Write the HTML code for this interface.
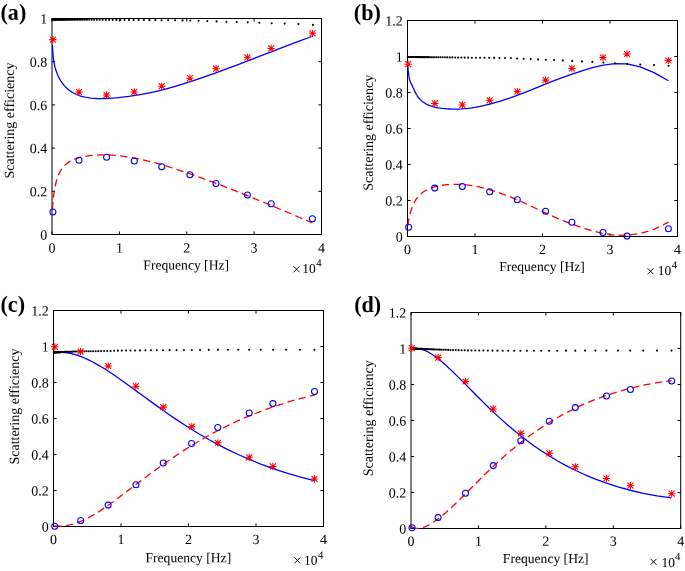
<!DOCTYPE html>
<html><head><meta charset="utf-8"><style>
html,body{margin:0;padding:0;background:#fff;overflow:hidden;}
svg{display:block;will-change:transform;}
text{font-family:"Liberation Serif", serif;font-size:14px;fill:#000;text-rendering:geometricPrecision;}
</style></head><body>
<svg width="685" height="571" viewBox="0 0 685 571">
<rect x="52.00" y="18.50" width="269.50" height="216.00" fill="none" stroke="#000" stroke-width="1"/>
<path d="M52.00,234.50V231.40M52.00,18.50V21.60M119.38,234.50V231.40M119.38,18.50V21.60M186.75,234.50V231.40M186.75,18.50V21.60M254.12,234.50V231.40M254.12,18.50V21.60M321.50,234.50V231.40M321.50,18.50V21.60M52.00,234.50H55.10M321.50,234.50H318.40M52.00,191.30H55.10M321.50,191.30H318.40M52.00,148.10H55.10M321.50,148.10H318.40M52.00,104.90H55.10M321.50,104.90H318.40M52.00,61.70H55.10M321.50,61.70H318.40M52.00,18.50H55.10M321.50,18.50H318.40" stroke="#000" stroke-width="1" fill="none"/>
<path d="M52.40,44.89 L52.49,46.72 L52.73,50.58 L52.97,53.84 L53.23,56.62 L53.51,59.04 L53.80,61.15 L54.11,63.02 L54.44,64.71 L54.78,66.25 L55.15,67.68 L55.54,69.02 L55.95,70.31 L56.38,71.57 L56.84,72.80 L57.33,74.02 L57.84,75.23 L58.39,76.42 L58.96,77.60 L59.57,78.76 L60.22,79.90 L60.90,81.02 L61.63,82.12 L62.39,83.21 L63.20,84.27 L64.06,85.31 L64.97,86.34 L65.93,87.34 L66.94,88.31 L68.02,89.26 L69.16,90.18 L70.36,91.06 L71.63,91.91 L72.98,92.71 L74.41,93.48 L75.92,94.20 L77.52,94.88 L79.21,95.51 L81.00,96.09 L82.90,96.61 L84.90,97.08 L87.02,97.48 L89.27,97.83 L91.65,98.11 L94.16,98.33 L96.82,98.48 L99.64,98.55 L102.62,98.56 L105.78,98.48 L109.12,98.33 L112.65,98.10 L116.39,97.79 L120.35,97.38 L124.54,96.89 L128.97,96.31 L133.66,95.64 L138.63,94.84 L143.88,93.91 L149.44,92.81 L155.33,91.53 L161.56,90.04 L168.15,88.32 L175.12,86.35 L182.50,84.13 L190.32,81.63 L198.59,78.87 L207.34,75.84 L216.60,72.53 L226.40,68.94 L236.77,65.06 L247.74,60.90 L259.36,56.45 L271.65,51.71 L284.66,46.72 L298.43,41.48 L311.70,36.51" fill="none" stroke="#0000ff" stroke-width="1.3" stroke-linejoin="round"/>
<path d="M52.40,209.33 L52.49,207.97 L52.73,204.90 L52.97,202.04 L53.23,199.38 L53.51,196.88 L53.80,194.53 L54.11,192.30 L54.44,190.20 L54.78,188.20 L55.15,186.31 L55.54,184.50 L55.95,182.77 L56.38,181.13 L56.84,179.55 L57.33,178.05 L57.84,176.61 L58.39,175.23 L58.96,173.90 L59.57,172.64 L60.22,171.43 L60.90,170.26 L61.63,169.15 L62.39,168.09 L63.20,167.07 L64.06,166.10 L64.97,165.17 L65.93,164.28 L66.94,163.44 L68.02,162.63 L69.16,161.87 L70.36,161.15 L71.63,160.47 L72.98,159.82 L74.41,159.22 L75.92,158.65 L77.52,158.12 L79.21,157.63 L81.00,157.18 L82.90,156.76 L84.90,156.38 L87.02,156.04 L89.27,155.73 L91.65,155.47 L94.16,155.23 L96.82,155.04 L99.64,154.91 L102.62,154.84 L105.78,154.84 L109.12,154.94 L112.65,155.13 L116.39,155.42 L120.35,155.84 L124.54,156.39 L128.97,157.07 L133.66,157.91 L138.63,158.91 L143.88,160.08 L149.44,161.43 L155.33,162.97 L161.56,164.71 L168.15,166.67 L175.12,168.85 L182.50,171.27 L190.32,173.93 L198.59,176.86 L207.34,180.06 L216.60,183.54 L226.40,187.33 L236.77,191.42 L247.74,195.84 L259.36,200.59 L271.65,205.69 L284.66,211.16 L298.43,216.99 L312.40,222.95" fill="none" stroke="#ff0000" stroke-width="1.3" stroke-dasharray="7.3 4.3" stroke-linejoin="round"/>
<circle cx="52.27" cy="19.60" r="1.05" fill="#000"/>
<circle cx="52.49" cy="19.60" r="1.05" fill="#000"/>
<circle cx="52.73" cy="19.61" r="1.05" fill="#000"/>
<circle cx="52.97" cy="19.61" r="1.05" fill="#000"/>
<circle cx="53.23" cy="19.61" r="1.05" fill="#000"/>
<circle cx="53.51" cy="19.61" r="1.05" fill="#000"/>
<circle cx="53.80" cy="19.61" r="1.05" fill="#000"/>
<circle cx="54.11" cy="19.61" r="1.05" fill="#000"/>
<circle cx="54.44" cy="19.61" r="1.05" fill="#000"/>
<circle cx="54.78" cy="19.61" r="1.05" fill="#000"/>
<circle cx="55.15" cy="19.62" r="1.05" fill="#000"/>
<circle cx="55.54" cy="19.62" r="1.05" fill="#000"/>
<circle cx="55.95" cy="19.62" r="1.05" fill="#000"/>
<circle cx="56.38" cy="19.62" r="1.05" fill="#000"/>
<circle cx="56.84" cy="19.62" r="1.05" fill="#000"/>
<circle cx="57.33" cy="19.63" r="1.05" fill="#000"/>
<circle cx="57.84" cy="19.63" r="1.05" fill="#000"/>
<circle cx="58.39" cy="19.63" r="1.05" fill="#000"/>
<circle cx="58.96" cy="19.63" r="1.05" fill="#000"/>
<circle cx="59.57" cy="19.64" r="1.05" fill="#000"/>
<circle cx="60.22" cy="19.64" r="1.05" fill="#000"/>
<circle cx="60.90" cy="19.64" r="1.05" fill="#000"/>
<circle cx="61.63" cy="19.65" r="1.05" fill="#000"/>
<circle cx="62.39" cy="19.65" r="1.05" fill="#000"/>
<circle cx="63.20" cy="19.65" r="1.05" fill="#000"/>
<circle cx="64.06" cy="19.66" r="1.05" fill="#000"/>
<circle cx="64.97" cy="19.66" r="1.05" fill="#000"/>
<circle cx="65.93" cy="19.66" r="1.05" fill="#000"/>
<circle cx="66.94" cy="19.67" r="1.05" fill="#000"/>
<circle cx="68.02" cy="19.67" r="1.05" fill="#000"/>
<circle cx="69.16" cy="19.68" r="1.05" fill="#000"/>
<circle cx="70.36" cy="19.68" r="1.05" fill="#000"/>
<circle cx="71.63" cy="19.69" r="1.05" fill="#000"/>
<circle cx="72.98" cy="19.70" r="1.05" fill="#000"/>
<circle cx="74.41" cy="19.70" r="1.05" fill="#000"/>
<circle cx="75.92" cy="19.71" r="1.05" fill="#000"/>
<circle cx="77.52" cy="19.72" r="1.05" fill="#000"/>
<circle cx="79.21" cy="19.72" r="1.05" fill="#000"/>
<circle cx="81.00" cy="19.73" r="1.05" fill="#000"/>
<circle cx="82.90" cy="19.74" r="1.05" fill="#000"/>
<circle cx="84.90" cy="19.75" r="1.05" fill="#000"/>
<circle cx="87.02" cy="19.76" r="1.05" fill="#000"/>
<circle cx="89.27" cy="19.77" r="1.05" fill="#000"/>
<circle cx="91.65" cy="19.78" r="1.05" fill="#000"/>
<circle cx="94.16" cy="19.79" r="1.05" fill="#000"/>
<circle cx="96.82" cy="19.80" r="1.05" fill="#000"/>
<circle cx="99.64" cy="19.82" r="1.05" fill="#000"/>
<circle cx="102.62" cy="19.83" r="1.05" fill="#000"/>
<circle cx="105.78" cy="19.85" r="1.05" fill="#000"/>
<circle cx="109.12" cy="19.87" r="1.05" fill="#000"/>
<circle cx="112.65" cy="19.88" r="1.05" fill="#000"/>
<circle cx="116.39" cy="19.90" r="1.05" fill="#000"/>
<circle cx="120.35" cy="19.93" r="1.05" fill="#000"/>
<circle cx="124.54" cy="19.96" r="1.05" fill="#000"/>
<circle cx="128.97" cy="19.99" r="1.05" fill="#000"/>
<circle cx="133.66" cy="20.02" r="1.05" fill="#000"/>
<circle cx="138.63" cy="20.05" r="1.05" fill="#000"/>
<circle cx="143.88" cy="20.09" r="1.05" fill="#000"/>
<circle cx="149.44" cy="20.13" r="1.05" fill="#000"/>
<circle cx="155.33" cy="20.17" r="1.05" fill="#000"/>
<circle cx="161.56" cy="20.21" r="1.05" fill="#000"/>
<circle cx="168.15" cy="20.25" r="1.05" fill="#000"/>
<circle cx="175.12" cy="20.30" r="1.05" fill="#000"/>
<circle cx="182.50" cy="20.40" r="1.05" fill="#000"/>
<circle cx="190.32" cy="20.51" r="1.05" fill="#000"/>
<circle cx="198.59" cy="20.80" r="1.05" fill="#000"/>
<circle cx="207.34" cy="21.11" r="1.05" fill="#000"/>
<circle cx="216.60" cy="21.40" r="1.05" fill="#000"/>
<circle cx="226.40" cy="21.71" r="1.05" fill="#000"/>
<circle cx="236.77" cy="22.01" r="1.05" fill="#000"/>
<circle cx="247.74" cy="22.33" r="1.05" fill="#000"/>
<circle cx="259.36" cy="22.81" r="1.05" fill="#000"/>
<circle cx="271.65" cy="23.20" r="1.05" fill="#000"/>
<circle cx="284.66" cy="23.60" r="1.05" fill="#000"/>
<circle cx="298.43" cy="24.10" r="1.05" fill="#000"/>
<circle cx="313.00" cy="24.90" r="1.05" fill="#000"/>
<path d="M49.30,39.60L56.50,39.60M49.93,36.63L55.87,42.57M52.90,36.00L52.90,43.20M55.87,36.63L49.93,42.57M75.40,92.00L82.60,92.00M76.03,89.03L81.97,94.97M79.00,88.40L79.00,95.60M81.97,89.03L76.03,94.97M102.90,95.00L110.10,95.00M103.53,92.03L109.47,97.97M106.50,91.40L106.50,98.60M109.47,92.03L103.53,97.97M130.60,91.90L137.80,91.90M131.23,88.93L137.17,94.87M134.20,88.30L134.20,95.50M137.17,88.93L131.23,94.87M158.10,86.20L165.30,86.20M158.73,83.23L164.67,89.17M161.70,82.60L161.70,89.80M164.67,83.23L158.73,89.17M186.40,78.20L193.60,78.20M187.03,75.23L192.97,81.17M190.00,74.60L190.00,81.80M192.97,75.23L187.03,81.17M212.50,68.70L219.70,68.70M213.13,65.73L219.07,71.67M216.10,65.10L216.10,72.30M219.07,65.73L213.13,71.67M243.80,57.30L251.00,57.30M244.43,54.33L250.37,60.27M247.40,53.70L247.40,60.90M250.37,54.33L244.43,60.27M267.60,48.40L274.80,48.40M268.23,45.43L274.17,51.37M271.20,44.80L271.20,52.00M274.17,45.43L268.23,51.37M308.90,33.30L316.10,33.30M309.53,30.33L315.47,36.27M312.50,29.70L312.50,36.90M315.47,30.33L309.53,36.27" stroke="#ff0000" stroke-width="1.05" fill="none"/>
<circle cx="52.90" cy="212.00" r="3.0" fill="none" stroke="#0000ff" stroke-width="1.05"/>
<circle cx="79.00" cy="160.30" r="3.0" fill="none" stroke="#0000ff" stroke-width="1.05"/>
<circle cx="106.60" cy="157.30" r="3.0" fill="none" stroke="#0000ff" stroke-width="1.05"/>
<circle cx="134.30" cy="161.00" r="3.0" fill="none" stroke="#0000ff" stroke-width="1.05"/>
<circle cx="161.70" cy="166.80" r="3.0" fill="none" stroke="#0000ff" stroke-width="1.05"/>
<circle cx="189.90" cy="174.70" r="3.0" fill="none" stroke="#0000ff" stroke-width="1.05"/>
<circle cx="216.00" cy="183.40" r="3.0" fill="none" stroke="#0000ff" stroke-width="1.05"/>
<circle cx="247.40" cy="195.00" r="3.0" fill="none" stroke="#0000ff" stroke-width="1.05"/>
<circle cx="271.20" cy="203.80" r="3.0" fill="none" stroke="#0000ff" stroke-width="1.05"/>
<circle cx="312.40" cy="218.80" r="3.0" fill="none" stroke="#0000ff" stroke-width="1.05"/>
<text x="52.00" y="252.60" transform="rotate(0.05 52.00 252.60)" text-anchor="middle">0</text>
<text x="119.38" y="252.60" transform="rotate(0.05 119.38 252.60)" text-anchor="middle">1</text>
<text x="186.75" y="252.60" transform="rotate(0.05 186.75 252.60)" text-anchor="middle">2</text>
<text x="254.12" y="252.60" transform="rotate(0.05 254.12 252.60)" text-anchor="middle">3</text>
<text x="321.50" y="252.60" transform="rotate(0.05 321.50 252.60)" text-anchor="middle">4</text>
<text x="47.30" y="239.50" transform="rotate(0.05 47.30 239.50)" text-anchor="end">0</text>
<text x="47.30" y="196.30" transform="rotate(0.05 47.30 196.30)" text-anchor="end">0.2</text>
<text x="47.30" y="153.10" transform="rotate(0.05 47.30 153.10)" text-anchor="end">0.4</text>
<text x="47.30" y="109.90" transform="rotate(0.05 47.30 109.90)" text-anchor="end">0.6</text>
<text x="47.30" y="66.70" transform="rotate(0.05 47.30 66.70)" text-anchor="end">0.8</text>
<text x="47.30" y="23.50" transform="rotate(0.05 47.30 23.50)" text-anchor="end">1</text>
<text x="186.20" y="269.50" transform="rotate(0.05 186.20 269.50)" text-anchor="middle" style="font-size:13.6px">Frequency [Hz]</text>
<text transform="translate(14.00,120.50) rotate(-89.95)" text-anchor="middle" style="font-size:14.00px">Scattering efficiency</text>
<path d="M293.55,266.25L299.55,272.25M293.55,272.25L299.55,266.25" stroke="#000" stroke-width="0.95" fill="none"/>
<text x="302.20" y="273.00" transform="rotate(0.05 302.20 273.00)" style="font-size:13.5px">10</text>
<text x="316.20" y="266.60" transform="rotate(0.05 316.20 266.60)" style="font-size:10.8px">4</text>
<text transform="translate(0.50,19.80) scale(0.960,1) rotate(0.05)" style="font-weight:bold;font-size:23px">(a)</text>
<rect x="407.50" y="20.50" width="270.00" height="216.00" fill="none" stroke="#000" stroke-width="1"/>
<path d="M407.50,236.50V233.40M407.50,20.50V23.60M475.00,236.50V233.40M475.00,20.50V23.60M542.50,236.50V233.40M542.50,20.50V23.60M610.00,236.50V233.40M610.00,20.50V23.60M677.50,236.50V233.40M677.50,20.50V23.60M407.50,236.50H410.60M677.50,236.50H674.40M407.50,200.50H410.60M677.50,200.50H674.40M407.50,164.50H410.60M677.50,164.50H674.40M407.50,128.50H410.60M677.50,128.50H674.40M407.50,92.50H410.60M677.50,92.50H674.40M407.50,56.50H410.60M677.50,56.50H674.40M407.50,20.50H410.60M677.50,20.50H674.40" stroke="#000" stroke-width="1" fill="none"/>
<path d="M407.80,66.79 L408.00,68.55 L408.23,70.65 L408.47,72.74 L408.74,74.76 L409.01,76.63 L409.30,78.31 L409.61,79.75 L409.94,80.93 L410.29,81.86 L410.65,82.64 L411.04,83.35 L411.45,84.10 L411.89,84.94 L412.35,85.92 L412.83,87.00 L413.35,88.15 L413.89,89.36 L414.47,90.60 L415.08,91.85 L415.72,93.10 L416.41,94.32 L417.13,95.52 L417.90,96.65 L418.71,97.74 L419.57,98.76 L420.47,99.73 L421.43,100.64 L422.45,101.51 L423.52,102.32 L424.66,103.08 L425.87,103.80 L427.14,104.46 L428.49,105.08 L429.92,105.66 L431.43,106.18 L433.03,106.67 L434.72,107.11 L436.51,107.50 L438.41,107.85 L440.42,108.16 L442.54,108.43 L444.78,108.65 L447.16,108.84 L449.68,108.98 L452.34,109.07 L455.16,109.09 L458.14,109.04 L461.30,108.90 L464.64,108.65 L468.18,108.29 L471.92,107.79 L475.88,107.15 L480.07,106.36 L484.50,105.40 L489.19,104.25 L494.16,102.91 L499.42,101.37 L504.98,99.60 L510.87,97.61 L517.10,95.37 L523.69,92.87 L530.67,90.11 L538.06,87.11 L545.87,83.95 L554.14,80.68 L562.90,77.36 L572.16,74.05 L581.96,70.82 L592.34,67.73 L603.32,65.05 L614.94,63.53 L627.24,63.96 L640.25,66.97 L654.02,72.62 L668.50,80.74" fill="none" stroke="#0000ff" stroke-width="1.3" stroke-linejoin="round"/>
<path d="M407.90,225.48 L408.00,224.81 L408.23,223.26 L408.47,221.73 L408.74,220.22 L409.01,218.74 L409.30,217.29 L409.61,215.87 L409.94,214.47 L410.29,213.10 L410.65,211.76 L411.04,210.45 L411.45,209.17 L411.89,207.91 L412.35,206.69 L412.83,205.49 L413.35,204.32 L413.89,203.18 L414.47,202.06 L415.08,200.98 L415.72,199.92 L416.41,198.90 L417.13,197.90 L417.90,196.94 L418.71,196.00 L419.57,195.10 L420.47,194.22 L421.43,193.38 L422.45,192.57 L423.52,191.79 L424.66,191.05 L425.87,190.34 L427.14,189.67 L428.49,189.03 L429.92,188.42 L431.43,187.86 L433.03,187.33 L434.72,186.83 L436.51,186.38 L438.41,185.96 L440.42,185.59 L442.54,185.26 L444.78,184.97 L447.16,184.72 L449.68,184.51 L452.34,184.36 L455.16,184.29 L458.14,184.30 L461.30,184.41 L464.64,184.65 L468.18,185.03 L471.92,185.56 L475.88,186.25 L480.07,187.14 L484.50,188.22 L489.19,189.52 L494.16,191.05 L499.42,192.82 L504.98,194.86 L510.87,197.17 L517.10,199.78 L523.69,202.70 L530.67,205.93 L538.06,209.43 L545.87,213.11 L554.14,216.88 L562.90,220.62 L572.16,224.26 L581.96,227.69 L592.34,230.83 L603.32,233.47 L614.94,235.14 L627.24,235.35 L640.25,233.57 L654.02,229.31 L668.60,222.06" fill="none" stroke="#ff0000" stroke-width="1.3" stroke-dasharray="7.3 4.3" stroke-linejoin="round"/>
<circle cx="407.78" cy="57.00" r="1.05" fill="#000"/>
<circle cx="408.00" cy="57.00" r="1.05" fill="#000"/>
<circle cx="408.23" cy="57.01" r="1.05" fill="#000"/>
<circle cx="408.47" cy="57.01" r="1.05" fill="#000"/>
<circle cx="408.74" cy="57.01" r="1.05" fill="#000"/>
<circle cx="409.01" cy="57.01" r="1.05" fill="#000"/>
<circle cx="409.30" cy="57.01" r="1.05" fill="#000"/>
<circle cx="409.61" cy="57.02" r="1.05" fill="#000"/>
<circle cx="409.94" cy="57.02" r="1.05" fill="#000"/>
<circle cx="410.29" cy="57.02" r="1.05" fill="#000"/>
<circle cx="410.65" cy="57.03" r="1.05" fill="#000"/>
<circle cx="411.04" cy="57.03" r="1.05" fill="#000"/>
<circle cx="411.45" cy="57.03" r="1.05" fill="#000"/>
<circle cx="411.89" cy="57.04" r="1.05" fill="#000"/>
<circle cx="412.35" cy="57.04" r="1.05" fill="#000"/>
<circle cx="412.83" cy="57.04" r="1.05" fill="#000"/>
<circle cx="413.35" cy="57.05" r="1.05" fill="#000"/>
<circle cx="413.89" cy="57.05" r="1.05" fill="#000"/>
<circle cx="414.47" cy="57.06" r="1.05" fill="#000"/>
<circle cx="415.08" cy="57.06" r="1.05" fill="#000"/>
<circle cx="415.72" cy="57.07" r="1.05" fill="#000"/>
<circle cx="416.41" cy="57.07" r="1.05" fill="#000"/>
<circle cx="417.13" cy="57.08" r="1.05" fill="#000"/>
<circle cx="417.90" cy="57.09" r="1.05" fill="#000"/>
<circle cx="418.71" cy="57.09" r="1.05" fill="#000"/>
<circle cx="419.57" cy="57.10" r="1.05" fill="#000"/>
<circle cx="420.47" cy="57.11" r="1.05" fill="#000"/>
<circle cx="421.43" cy="57.12" r="1.05" fill="#000"/>
<circle cx="422.45" cy="57.12" r="1.05" fill="#000"/>
<circle cx="423.52" cy="57.13" r="1.05" fill="#000"/>
<circle cx="424.66" cy="57.14" r="1.05" fill="#000"/>
<circle cx="425.87" cy="57.15" r="1.05" fill="#000"/>
<circle cx="427.14" cy="57.16" r="1.05" fill="#000"/>
<circle cx="428.49" cy="57.17" r="1.05" fill="#000"/>
<circle cx="429.92" cy="57.19" r="1.05" fill="#000"/>
<circle cx="431.43" cy="57.20" r="1.05" fill="#000"/>
<circle cx="433.03" cy="57.21" r="1.05" fill="#000"/>
<circle cx="434.72" cy="57.22" r="1.05" fill="#000"/>
<circle cx="436.51" cy="57.24" r="1.05" fill="#000"/>
<circle cx="438.41" cy="57.26" r="1.05" fill="#000"/>
<circle cx="440.42" cy="57.27" r="1.05" fill="#000"/>
<circle cx="442.54" cy="57.29" r="1.05" fill="#000"/>
<circle cx="444.78" cy="57.31" r="1.05" fill="#000"/>
<circle cx="447.16" cy="57.35" r="1.05" fill="#000"/>
<circle cx="449.68" cy="57.38" r="1.05" fill="#000"/>
<circle cx="452.34" cy="57.42" r="1.05" fill="#000"/>
<circle cx="455.16" cy="57.46" r="1.05" fill="#000"/>
<circle cx="458.14" cy="57.50" r="1.05" fill="#000"/>
<circle cx="461.30" cy="57.54" r="1.05" fill="#000"/>
<circle cx="464.64" cy="57.59" r="1.05" fill="#000"/>
<circle cx="468.18" cy="57.63" r="1.05" fill="#000"/>
<circle cx="471.92" cy="57.69" r="1.05" fill="#000"/>
<circle cx="475.88" cy="57.73" r="1.05" fill="#000"/>
<circle cx="480.07" cy="57.77" r="1.05" fill="#000"/>
<circle cx="484.50" cy="57.82" r="1.05" fill="#000"/>
<circle cx="489.19" cy="57.87" r="1.05" fill="#000"/>
<circle cx="494.16" cy="57.92" r="1.05" fill="#000"/>
<circle cx="499.42" cy="57.98" r="1.05" fill="#000"/>
<circle cx="504.98" cy="58.04" r="1.05" fill="#000"/>
<circle cx="510.87" cy="58.10" r="1.05" fill="#000"/>
<circle cx="517.10" cy="58.43" r="1.05" fill="#000"/>
<circle cx="523.69" cy="58.78" r="1.05" fill="#000"/>
<circle cx="530.67" cy="59.09" r="1.05" fill="#000"/>
<circle cx="538.06" cy="59.40" r="1.05" fill="#000"/>
<circle cx="545.87" cy="59.75" r="1.05" fill="#000"/>
<circle cx="554.14" cy="60.11" r="1.05" fill="#000"/>
<circle cx="562.90" cy="60.40" r="1.05" fill="#000"/>
<circle cx="572.16" cy="60.90" r="1.05" fill="#000"/>
<circle cx="581.96" cy="61.40" r="1.05" fill="#000"/>
<circle cx="592.34" cy="61.91" r="1.05" fill="#000"/>
<circle cx="603.32" cy="62.62" r="1.05" fill="#000"/>
<circle cx="614.94" cy="63.21" r="1.05" fill="#000"/>
<circle cx="627.24" cy="63.91" r="1.05" fill="#000"/>
<circle cx="640.25" cy="64.61" r="1.05" fill="#000"/>
<circle cx="654.02" cy="65.10" r="1.05" fill="#000"/>
<circle cx="668.60" cy="65.70" r="1.05" fill="#000"/>
<path d="M404.50,64.20L411.70,64.20M405.13,61.23L411.07,67.17M408.10,60.60L408.10,67.80M411.07,61.23L405.13,67.17M431.20,103.40L438.40,103.40M431.83,100.43L437.77,106.37M434.80,99.80L434.80,107.00M437.77,100.43L431.83,106.37M458.70,104.90L465.90,104.90M459.33,101.93L465.27,107.87M462.30,101.30L462.30,108.50M465.27,101.93L459.33,107.87M486.10,100.30L493.30,100.30M486.73,97.33L492.67,103.27M489.70,96.70L489.70,103.90M492.67,97.33L486.73,103.27M513.70,91.50L520.90,91.50M514.33,88.53L520.27,94.47M517.30,87.90L517.30,95.10M520.27,88.53L514.33,94.47M542.00,80.10L549.20,80.10M542.63,77.13L548.57,83.07M545.60,76.50L545.60,83.70M548.57,77.13L542.63,83.07M568.30,68.40L575.50,68.40M568.93,65.43L574.87,71.37M571.90,64.80L571.90,72.00M574.87,65.43L568.93,71.37M599.40,57.50L606.60,57.50M600.03,54.53L605.97,60.47M603.00,53.90L603.00,61.10M605.97,54.53L600.03,60.47M623.40,54.00L630.60,54.00M624.03,51.03L629.97,56.97M627.00,50.40L627.00,57.60M629.97,51.03L624.03,56.97M664.80,60.50L672.00,60.50M665.43,57.53L671.37,63.47M668.40,56.90L668.40,64.10M671.37,57.53L665.43,63.47" stroke="#ff0000" stroke-width="1.05" fill="none"/>
<circle cx="408.60" cy="227.20" r="3.0" fill="none" stroke="#0000ff" stroke-width="1.05"/>
<circle cx="434.70" cy="188.10" r="3.0" fill="none" stroke="#0000ff" stroke-width="1.05"/>
<circle cx="462.30" cy="186.60" r="3.0" fill="none" stroke="#0000ff" stroke-width="1.05"/>
<circle cx="489.70" cy="191.70" r="3.0" fill="none" stroke="#0000ff" stroke-width="1.05"/>
<circle cx="517.30" cy="199.70" r="3.0" fill="none" stroke="#0000ff" stroke-width="1.05"/>
<circle cx="545.60" cy="211.30" r="3.0" fill="none" stroke="#0000ff" stroke-width="1.05"/>
<circle cx="571.90" cy="222.30" r="3.0" fill="none" stroke="#0000ff" stroke-width="1.05"/>
<circle cx="603.00" cy="232.40" r="3.0" fill="none" stroke="#0000ff" stroke-width="1.05"/>
<circle cx="627.00" cy="236.10" r="3.0" fill="none" stroke="#0000ff" stroke-width="1.05"/>
<circle cx="668.40" cy="228.70" r="3.0" fill="none" stroke="#0000ff" stroke-width="1.05"/>
<text x="407.50" y="254.00" transform="rotate(0.05 407.50 254.00)" text-anchor="middle">0</text>
<text x="475.00" y="254.00" transform="rotate(0.05 475.00 254.00)" text-anchor="middle">1</text>
<text x="542.50" y="254.00" transform="rotate(0.05 542.50 254.00)" text-anchor="middle">2</text>
<text x="610.00" y="254.00" transform="rotate(0.05 610.00 254.00)" text-anchor="middle">3</text>
<text x="677.50" y="254.00" transform="rotate(0.05 677.50 254.00)" text-anchor="middle">4</text>
<text x="402.80" y="241.50" transform="rotate(0.05 402.80 241.50)" text-anchor="end">0</text>
<text x="402.80" y="205.50" transform="rotate(0.05 402.80 205.50)" text-anchor="end">0.2</text>
<text x="402.80" y="169.50" transform="rotate(0.05 402.80 169.50)" text-anchor="end">0.4</text>
<text x="402.80" y="133.50" transform="rotate(0.05 402.80 133.50)" text-anchor="end">0.6</text>
<text x="402.80" y="97.50" transform="rotate(0.05 402.80 97.50)" text-anchor="end">0.8</text>
<text x="402.80" y="61.50" transform="rotate(0.05 402.80 61.50)" text-anchor="end">1</text>
<text x="402.80" y="25.50" transform="rotate(0.05 402.80 25.50)" text-anchor="end">1.2</text>
<text x="542.00" y="271.10" transform="rotate(0.05 542.00 271.10)" text-anchor="middle" style="font-size:13.6px">Frequency [Hz]</text>
<text transform="translate(372.90,132.75) rotate(-89.95)" text-anchor="middle" style="font-size:14.00px">Scattering efficiency</text>
<path d="M647.55,268.25L653.55,274.25M647.55,274.25L653.55,268.25" stroke="#000" stroke-width="0.95" fill="none"/>
<text x="657.80" y="274.90" transform="rotate(0.05 657.80 274.90)" style="font-size:13.5px">10</text>
<text x="671.80" y="268.50" transform="rotate(0.05 671.80 268.50)" style="font-size:10.8px">4</text>
<text transform="translate(353.80,19.90) scale(0.960,1) rotate(0.05)" style="font-weight:bold;font-size:23px">(b)</text>
<rect x="53.50" y="310.50" width="270.00" height="216.00" fill="none" stroke="#000" stroke-width="1"/>
<path d="M53.50,526.50V523.40M53.50,310.50V313.60M121.00,526.50V523.40M121.00,310.50V313.60M188.50,526.50V523.40M188.50,310.50V313.60M256.00,526.50V523.40M256.00,310.50V313.60M323.50,526.50V523.40M323.50,310.50V313.60M53.50,526.50H56.60M323.50,526.50H320.40M53.50,490.50H56.60M323.50,490.50H320.40M53.50,454.50H56.60M323.50,454.50H320.40M53.50,418.50H56.60M323.50,418.50H320.40M53.50,382.50H56.60M323.50,382.50H320.40M53.50,346.50H56.60M323.50,346.50H320.40M53.50,310.50H56.60M323.50,310.50H320.40" stroke="#000" stroke-width="1" fill="none"/>
<path d="M54.20,353.20 L54.47,353.15 L54.73,353.09 L55.01,353.04 L55.30,352.98 L55.61,352.93 L55.94,352.87 L56.28,352.82 L56.65,352.77 L57.04,352.72 L57.45,352.67 L57.88,352.62 L58.34,352.58 L58.83,352.54 L59.34,352.50 L59.88,352.48 L60.46,352.46 L61.07,352.45 L61.72,352.45 L62.40,352.46 L63.12,352.48 L63.89,352.53 L64.70,352.59 L65.55,352.67 L66.46,352.77 L67.42,352.90 L68.44,353.06 L69.51,353.25 L70.65,353.48 L71.85,353.75 L73.13,354.06 L74.47,354.43 L75.90,354.85 L77.41,355.33 L79.01,355.88 L80.70,356.51 L82.49,357.21 L84.38,358.00 L86.39,358.89 L88.51,359.88 L90.75,360.99 L93.13,362.22 L95.64,363.57 L98.31,365.07 L101.12,366.73 L104.10,368.54 L107.26,370.53 L110.59,372.71 L114.13,375.08 L117.87,377.67 L121.82,380.46 L126.01,383.46 L130.44,386.68 L135.13,390.11 L140.09,393.74 L145.35,397.59 L150.90,401.63 L156.79,405.88 L163.01,410.31 L169.60,414.91 L176.57,419.65 L183.95,424.50 L191.76,429.45 L200.03,434.46 L208.78,439.51 L218.03,444.56 L227.83,449.58 L238.20,454.53 L249.17,459.37 L260.78,464.08 L273.07,468.60 L286.07,472.89 L299.83,476.93 L314.20,480.60" fill="none" stroke="#0000ff" stroke-width="1.3" stroke-linejoin="round"/>
<path d="M54.60,525.92 L54.73,525.93 L55.01,525.96 L55.30,525.99 L55.61,526.01 L55.94,526.04 L56.28,526.06 L56.65,526.09 L57.04,526.11 L57.45,526.13 L57.88,526.14 L58.34,526.15 L58.83,526.16 L59.34,526.16 L59.88,526.15 L60.46,526.14 L61.07,526.12 L61.72,526.09 L62.40,526.04 L63.12,525.98 L63.89,525.91 L64.70,525.82 L65.55,525.70 L66.46,525.57 L67.42,525.40 L68.44,525.21 L69.51,524.98 L70.65,524.72 L71.85,524.41 L73.13,524.06 L74.47,523.65 L75.90,523.19 L77.41,522.66 L79.01,522.05 L80.70,521.37 L82.49,520.60 L84.38,519.74 L86.39,518.77 L88.51,517.69 L90.75,516.48 L93.13,515.14 L95.64,513.65 L98.31,511.99 L101.12,510.17 L104.10,508.16 L107.26,505.96 L110.59,503.56 L114.13,500.98 L117.87,498.20 L121.82,495.22 L126.01,492.05 L130.44,488.68 L135.13,485.12 L140.09,481.37 L145.35,477.43 L150.90,473.32 L156.79,469.03 L163.01,464.58 L169.60,459.98 L176.57,455.24 L183.95,450.40 L191.76,445.48 L200.03,440.50 L208.78,435.50 L218.03,430.50 L227.83,425.55 L238.20,420.67 L249.17,415.90 L260.78,411.28 L273.07,406.85 L286.07,402.64 L299.83,398.71 L314.40,395.10 L314.60,395.05" fill="none" stroke="#ff0000" stroke-width="1.3" stroke-dasharray="7.3 4.3" stroke-linejoin="round"/>
<circle cx="53.77" cy="352.39" r="1.05" fill="#000"/>
<circle cx="53.99" cy="352.38" r="1.05" fill="#000"/>
<circle cx="54.22" cy="352.37" r="1.05" fill="#000"/>
<circle cx="54.47" cy="352.36" r="1.05" fill="#000"/>
<circle cx="54.73" cy="352.35" r="1.05" fill="#000"/>
<circle cx="55.01" cy="352.34" r="1.05" fill="#000"/>
<circle cx="55.30" cy="352.33" r="1.05" fill="#000"/>
<circle cx="55.61" cy="352.31" r="1.05" fill="#000"/>
<circle cx="55.94" cy="352.30" r="1.05" fill="#000"/>
<circle cx="56.28" cy="352.28" r="1.05" fill="#000"/>
<circle cx="56.65" cy="352.27" r="1.05" fill="#000"/>
<circle cx="57.04" cy="352.25" r="1.05" fill="#000"/>
<circle cx="57.45" cy="352.23" r="1.05" fill="#000"/>
<circle cx="57.88" cy="352.22" r="1.05" fill="#000"/>
<circle cx="58.34" cy="352.20" r="1.05" fill="#000"/>
<circle cx="58.83" cy="352.17" r="1.05" fill="#000"/>
<circle cx="59.34" cy="352.15" r="1.05" fill="#000"/>
<circle cx="59.88" cy="352.13" r="1.05" fill="#000"/>
<circle cx="60.46" cy="352.10" r="1.05" fill="#000"/>
<circle cx="61.07" cy="352.08" r="1.05" fill="#000"/>
<circle cx="61.72" cy="352.05" r="1.05" fill="#000"/>
<circle cx="62.40" cy="352.02" r="1.05" fill="#000"/>
<circle cx="63.12" cy="351.99" r="1.05" fill="#000"/>
<circle cx="63.89" cy="351.96" r="1.05" fill="#000"/>
<circle cx="64.70" cy="351.92" r="1.05" fill="#000"/>
<circle cx="65.55" cy="351.88" r="1.05" fill="#000"/>
<circle cx="66.46" cy="351.84" r="1.05" fill="#000"/>
<circle cx="67.42" cy="351.80" r="1.05" fill="#000"/>
<circle cx="68.44" cy="351.77" r="1.05" fill="#000"/>
<circle cx="69.51" cy="351.73" r="1.05" fill="#000"/>
<circle cx="70.65" cy="351.69" r="1.05" fill="#000"/>
<circle cx="71.85" cy="351.65" r="1.05" fill="#000"/>
<circle cx="73.13" cy="351.60" r="1.05" fill="#000"/>
<circle cx="74.47" cy="351.56" r="1.05" fill="#000"/>
<circle cx="75.90" cy="351.51" r="1.05" fill="#000"/>
<circle cx="77.41" cy="351.45" r="1.05" fill="#000"/>
<circle cx="79.01" cy="351.40" r="1.05" fill="#000"/>
<circle cx="80.70" cy="351.38" r="1.05" fill="#000"/>
<circle cx="82.49" cy="351.35" r="1.05" fill="#000"/>
<circle cx="84.38" cy="351.33" r="1.05" fill="#000"/>
<circle cx="86.39" cy="351.30" r="1.05" fill="#000"/>
<circle cx="88.51" cy="351.27" r="1.05" fill="#000"/>
<circle cx="90.75" cy="351.25" r="1.05" fill="#000"/>
<circle cx="93.13" cy="351.21" r="1.05" fill="#000"/>
<circle cx="95.64" cy="351.18" r="1.05" fill="#000"/>
<circle cx="98.31" cy="351.15" r="1.05" fill="#000"/>
<circle cx="101.12" cy="351.11" r="1.05" fill="#000"/>
<circle cx="104.10" cy="351.07" r="1.05" fill="#000"/>
<circle cx="107.26" cy="351.03" r="1.05" fill="#000"/>
<circle cx="110.59" cy="350.96" r="1.05" fill="#000"/>
<circle cx="114.13" cy="350.81" r="1.05" fill="#000"/>
<circle cx="117.87" cy="350.67" r="1.05" fill="#000"/>
<circle cx="121.82" cy="350.58" r="1.05" fill="#000"/>
<circle cx="126.01" cy="350.54" r="1.05" fill="#000"/>
<circle cx="130.44" cy="350.50" r="1.05" fill="#000"/>
<circle cx="135.13" cy="350.46" r="1.05" fill="#000"/>
<circle cx="140.09" cy="350.42" r="1.05" fill="#000"/>
<circle cx="145.35" cy="350.37" r="1.05" fill="#000"/>
<circle cx="150.90" cy="350.32" r="1.05" fill="#000"/>
<circle cx="156.79" cy="350.27" r="1.05" fill="#000"/>
<circle cx="163.01" cy="350.22" r="1.05" fill="#000"/>
<circle cx="169.60" cy="350.16" r="1.05" fill="#000"/>
<circle cx="176.57" cy="350.11" r="1.05" fill="#000"/>
<circle cx="183.95" cy="350.05" r="1.05" fill="#000"/>
<circle cx="191.76" cy="349.99" r="1.05" fill="#000"/>
<circle cx="200.03" cy="349.93" r="1.05" fill="#000"/>
<circle cx="208.78" cy="349.86" r="1.05" fill="#000"/>
<circle cx="218.03" cy="349.80" r="1.05" fill="#000"/>
<circle cx="227.83" cy="349.80" r="1.05" fill="#000"/>
<circle cx="238.20" cy="349.80" r="1.05" fill="#000"/>
<circle cx="249.17" cy="349.80" r="1.05" fill="#000"/>
<circle cx="260.78" cy="349.80" r="1.05" fill="#000"/>
<circle cx="273.07" cy="349.80" r="1.05" fill="#000"/>
<circle cx="286.07" cy="349.80" r="1.05" fill="#000"/>
<circle cx="299.83" cy="349.80" r="1.05" fill="#000"/>
<circle cx="314.40" cy="349.80" r="1.05" fill="#000"/>
<path d="M51.20,346.80L58.40,346.80M51.83,343.83L57.77,349.77M54.80,343.20L54.80,350.40M57.77,343.83L51.83,349.77M77.00,351.60L84.20,351.60M77.63,348.63L83.57,354.57M80.60,348.00L80.60,355.20M83.57,348.63L77.63,354.57M104.60,366.00L111.80,366.00M105.23,363.03L111.17,368.97M108.20,362.40L108.20,369.60M111.17,363.03L105.23,368.97M132.20,386.20L139.40,386.20M132.83,383.23L138.77,389.17M135.80,382.60L135.80,389.80M138.77,383.23L132.83,389.17M159.60,407.10L166.80,407.10M160.23,404.13L166.17,410.07M163.20,403.50L163.20,410.70M166.17,404.13L160.23,410.07M188.20,426.70L195.40,426.70M188.83,423.73L194.77,429.67M191.80,423.10L191.80,430.30M194.77,423.73L188.83,429.67M214.30,442.80L221.50,442.80M214.93,439.83L220.87,445.77M217.90,439.20L217.90,446.40M220.87,439.83L214.93,445.77M245.60,457.30L252.80,457.30M246.23,454.33L252.17,460.27M249.20,453.70L249.20,460.90M252.17,454.33L246.23,460.27M269.30,466.40L276.50,466.40M269.93,463.43L275.87,469.37M272.90,462.80L272.90,470.00M275.87,463.43L269.93,469.37M310.80,478.90L318.00,478.90M311.43,475.93L317.37,481.87M314.40,475.30L314.40,482.50M317.37,475.93L311.43,481.87" stroke="#ff0000" stroke-width="1.05" fill="none"/>
<circle cx="54.70" cy="526.20" r="3.0" fill="none" stroke="#0000ff" stroke-width="1.05"/>
<circle cx="80.70" cy="520.40" r="3.0" fill="none" stroke="#0000ff" stroke-width="1.05"/>
<circle cx="108.20" cy="505.10" r="3.0" fill="none" stroke="#0000ff" stroke-width="1.05"/>
<circle cx="136.00" cy="484.80" r="3.0" fill="none" stroke="#0000ff" stroke-width="1.05"/>
<circle cx="163.20" cy="462.90" r="3.0" fill="none" stroke="#0000ff" stroke-width="1.05"/>
<circle cx="191.60" cy="443.40" r="3.0" fill="none" stroke="#0000ff" stroke-width="1.05"/>
<circle cx="217.80" cy="427.50" r="3.0" fill="none" stroke="#0000ff" stroke-width="1.05"/>
<circle cx="249.20" cy="413.00" r="3.0" fill="none" stroke="#0000ff" stroke-width="1.05"/>
<circle cx="272.90" cy="403.60" r="3.0" fill="none" stroke="#0000ff" stroke-width="1.05"/>
<circle cx="314.50" cy="391.40" r="3.0" fill="none" stroke="#0000ff" stroke-width="1.05"/>
<text x="53.50" y="544.10" transform="rotate(0.05 53.50 544.10)" text-anchor="middle">0</text>
<text x="121.00" y="544.10" transform="rotate(0.05 121.00 544.10)" text-anchor="middle">1</text>
<text x="188.50" y="544.10" transform="rotate(0.05 188.50 544.10)" text-anchor="middle">2</text>
<text x="256.00" y="544.10" transform="rotate(0.05 256.00 544.10)" text-anchor="middle">3</text>
<text x="323.50" y="544.10" transform="rotate(0.05 323.50 544.10)" text-anchor="middle">4</text>
<text x="48.80" y="531.50" transform="rotate(0.05 48.80 531.50)" text-anchor="end">0</text>
<text x="48.80" y="495.50" transform="rotate(0.05 48.80 495.50)" text-anchor="end">0.2</text>
<text x="48.80" y="459.50" transform="rotate(0.05 48.80 459.50)" text-anchor="end">0.4</text>
<text x="48.80" y="423.50" transform="rotate(0.05 48.80 423.50)" text-anchor="end">0.6</text>
<text x="48.80" y="387.50" transform="rotate(0.05 48.80 387.50)" text-anchor="end">0.8</text>
<text x="48.80" y="351.50" transform="rotate(0.05 48.80 351.50)" text-anchor="end">1</text>
<text x="48.80" y="315.50" transform="rotate(0.05 48.80 315.50)" text-anchor="end">1.2</text>
<text x="188.35" y="562.30" transform="rotate(0.05 188.35 562.30)" text-anchor="middle" style="font-size:13.6px">Frequency [Hz]</text>
<text transform="translate(19.00,406.60) rotate(-89.95)" text-anchor="middle" style="font-size:14.00px">Scattering efficiency</text>
<path d="M294.35,557.40L300.35,563.40M294.35,563.40L300.35,557.40" stroke="#000" stroke-width="0.95" fill="none"/>
<text x="304.10" y="564.80" transform="rotate(0.05 304.10 564.80)" style="font-size:13.5px">10</text>
<text x="317.90" y="558.60" transform="rotate(0.05 317.90 558.60)" style="font-size:10.8px">4</text>
<text transform="translate(0.50,311.80) scale(0.960,1) rotate(0.05)" style="font-weight:bold;font-size:23px">(c)</text>
<rect x="411.00" y="312.50" width="269.70" height="216.00" fill="none" stroke="#000" stroke-width="1"/>
<path d="M411.00,528.50V525.40M411.00,312.50V315.60M478.43,528.50V525.40M478.43,312.50V315.60M545.85,528.50V525.40M545.85,312.50V315.60M613.28,528.50V525.40M613.28,312.50V315.60M680.70,528.50V525.40M680.70,312.50V315.60M411.00,528.50H414.10M680.70,528.50H677.60M411.00,492.50H414.10M680.70,492.50H677.60M411.00,456.50H414.10M680.70,456.50H677.60M411.00,420.50H414.10M680.70,420.50H677.60M411.00,384.50H414.10M680.70,384.50H677.60M411.00,348.50H414.10M680.70,348.50H677.60M411.00,312.50H414.10M680.70,312.50H677.60" stroke="#000" stroke-width="1" fill="none"/>
<path d="M411.50,349.76 L411.72,349.67 L411.96,349.57 L412.22,349.48 L412.50,349.39 L412.79,349.30 L413.10,349.21 L413.43,349.12 L413.77,349.04 L414.14,348.96 L414.52,348.90 L414.93,348.83 L415.37,348.78 L415.83,348.75 L416.31,348.72 L416.83,348.71 L417.37,348.72 L417.94,348.75 L418.55,348.80 L419.20,348.88 L419.88,349.00 L420.60,349.14 L421.37,349.32 L422.17,349.54 L423.03,349.81 L423.94,350.13 L424.89,350.51 L425.91,350.95 L426.98,351.45 L428.12,352.03 L429.32,352.69 L430.59,353.44 L431.94,354.28 L433.36,355.22 L434.87,356.27 L436.46,357.44 L438.15,358.73 L439.94,360.16 L441.83,361.74 L443.83,363.46 L445.95,365.35 L448.19,367.40 L450.56,369.63 L453.08,372.03 L455.73,374.62 L458.54,377.39 L461.52,380.36 L464.67,383.53 L468.00,386.90 L471.53,390.47 L475.26,394.24 L479.21,398.22 L483.39,402.37 L487.82,406.71 L492.50,411.20 L497.46,415.85 L502.70,420.62 L508.25,425.50 L514.13,430.47 L520.34,435.51 L526.92,440.59 L533.88,445.68 L541.25,450.75 L549.05,455.78 L557.30,460.73 L566.03,465.57 L575.28,470.27 L585.06,474.78 L595.41,479.07 L606.37,483.11 L617.96,486.85 L630.23,490.25 L643.21,493.27 L656.96,495.86 L671.40,497.97" fill="none" stroke="#0000ff" stroke-width="1.3" stroke-linejoin="round"/>
<path d="M411.60,526.87 L411.72,526.93 L411.96,527.05 L412.22,527.17 L412.50,527.29 L412.79,527.41 L413.10,527.52 L413.43,527.64 L413.77,527.74 L414.14,527.85 L414.52,527.95 L414.93,528.03 L415.37,528.11 L415.83,528.18 L416.31,528.24 L416.83,528.28 L417.37,528.30 L417.94,528.30 L418.55,528.27 L419.20,528.22 L419.88,528.14 L420.60,528.03 L421.37,527.88 L422.17,527.68 L423.03,527.44 L423.94,527.15 L424.89,526.80 L425.91,526.39 L426.98,525.91 L428.12,525.36 L429.32,524.73 L430.59,524.01 L431.94,523.20 L433.36,522.29 L434.87,521.27 L436.46,520.14 L438.15,518.88 L439.94,517.49 L441.83,515.97 L443.83,514.29 L445.95,512.46 L448.19,510.47 L450.56,508.31 L453.08,505.96 L455.73,503.43 L458.54,500.70 L461.52,497.76 L464.67,494.61 L468.00,491.26 L471.53,487.69 L475.26,483.93 L479.21,479.97 L483.39,475.83 L487.82,471.52 L492.50,467.05 L497.46,462.43 L502.70,457.69 L508.25,452.83 L514.13,447.89 L520.34,442.88 L526.92,437.82 L533.88,432.75 L541.25,427.69 L549.05,422.68 L557.30,417.74 L566.03,412.91 L575.28,408.22 L585.06,403.71 L595.41,399.42 L606.37,395.39 L617.96,391.66 L630.23,388.27 L643.21,385.27 L656.96,382.70 L671.40,380.61" fill="none" stroke="#ff0000" stroke-width="1.3" stroke-dasharray="7.3 4.3" stroke-linejoin="round"/>
<circle cx="411.27" cy="348.41" r="1.05" fill="#000"/>
<circle cx="411.49" cy="348.42" r="1.05" fill="#000"/>
<circle cx="411.72" cy="348.43" r="1.05" fill="#000"/>
<circle cx="411.96" cy="348.44" r="1.05" fill="#000"/>
<circle cx="412.22" cy="348.46" r="1.05" fill="#000"/>
<circle cx="412.50" cy="348.47" r="1.05" fill="#000"/>
<circle cx="412.79" cy="348.48" r="1.05" fill="#000"/>
<circle cx="413.10" cy="348.49" r="1.05" fill="#000"/>
<circle cx="413.43" cy="348.51" r="1.05" fill="#000"/>
<circle cx="413.77" cy="348.53" r="1.05" fill="#000"/>
<circle cx="414.14" cy="348.54" r="1.05" fill="#000"/>
<circle cx="414.52" cy="348.56" r="1.05" fill="#000"/>
<circle cx="414.93" cy="348.58" r="1.05" fill="#000"/>
<circle cx="415.37" cy="348.60" r="1.05" fill="#000"/>
<circle cx="415.83" cy="348.62" r="1.05" fill="#000"/>
<circle cx="416.31" cy="348.64" r="1.05" fill="#000"/>
<circle cx="416.83" cy="348.66" r="1.05" fill="#000"/>
<circle cx="417.37" cy="348.69" r="1.05" fill="#000"/>
<circle cx="417.94" cy="348.71" r="1.05" fill="#000"/>
<circle cx="418.55" cy="348.74" r="1.05" fill="#000"/>
<circle cx="419.20" cy="348.77" r="1.05" fill="#000"/>
<circle cx="419.88" cy="348.80" r="1.05" fill="#000"/>
<circle cx="420.60" cy="348.83" r="1.05" fill="#000"/>
<circle cx="421.37" cy="348.87" r="1.05" fill="#000"/>
<circle cx="422.17" cy="348.90" r="1.05" fill="#000"/>
<circle cx="423.03" cy="348.94" r="1.05" fill="#000"/>
<circle cx="423.94" cy="348.98" r="1.05" fill="#000"/>
<circle cx="424.89" cy="349.03" r="1.05" fill="#000"/>
<circle cx="425.91" cy="349.07" r="1.05" fill="#000"/>
<circle cx="426.98" cy="349.12" r="1.05" fill="#000"/>
<circle cx="428.12" cy="349.17" r="1.05" fill="#000"/>
<circle cx="429.32" cy="349.23" r="1.05" fill="#000"/>
<circle cx="430.59" cy="349.28" r="1.05" fill="#000"/>
<circle cx="431.94" cy="349.34" r="1.05" fill="#000"/>
<circle cx="433.36" cy="349.41" r="1.05" fill="#000"/>
<circle cx="434.87" cy="349.48" r="1.05" fill="#000"/>
<circle cx="436.46" cy="349.55" r="1.05" fill="#000"/>
<circle cx="438.15" cy="349.61" r="1.05" fill="#000"/>
<circle cx="439.94" cy="349.66" r="1.05" fill="#000"/>
<circle cx="441.83" cy="349.71" r="1.05" fill="#000"/>
<circle cx="443.83" cy="349.76" r="1.05" fill="#000"/>
<circle cx="445.95" cy="349.82" r="1.05" fill="#000"/>
<circle cx="448.19" cy="349.88" r="1.05" fill="#000"/>
<circle cx="450.56" cy="349.94" r="1.05" fill="#000"/>
<circle cx="453.08" cy="350.00" r="1.05" fill="#000"/>
<circle cx="455.73" cy="350.07" r="1.05" fill="#000"/>
<circle cx="458.54" cy="350.15" r="1.05" fill="#000"/>
<circle cx="461.52" cy="350.23" r="1.05" fill="#000"/>
<circle cx="464.67" cy="350.31" r="1.05" fill="#000"/>
<circle cx="468.00" cy="350.40" r="1.05" fill="#000"/>
<circle cx="471.53" cy="350.49" r="1.05" fill="#000"/>
<circle cx="475.26" cy="350.52" r="1.05" fill="#000"/>
<circle cx="479.21" cy="350.55" r="1.05" fill="#000"/>
<circle cx="483.39" cy="350.57" r="1.05" fill="#000"/>
<circle cx="487.82" cy="350.60" r="1.05" fill="#000"/>
<circle cx="492.50" cy="350.63" r="1.05" fill="#000"/>
<circle cx="497.46" cy="350.66" r="1.05" fill="#000"/>
<circle cx="502.70" cy="350.69" r="1.05" fill="#000"/>
<circle cx="508.25" cy="350.73" r="1.05" fill="#000"/>
<circle cx="514.13" cy="350.76" r="1.05" fill="#000"/>
<circle cx="520.34" cy="350.80" r="1.05" fill="#000"/>
<circle cx="526.92" cy="350.78" r="1.05" fill="#000"/>
<circle cx="533.88" cy="350.76" r="1.05" fill="#000"/>
<circle cx="541.25" cy="350.73" r="1.05" fill="#000"/>
<circle cx="549.05" cy="350.71" r="1.05" fill="#000"/>
<circle cx="557.30" cy="350.69" r="1.05" fill="#000"/>
<circle cx="566.03" cy="350.66" r="1.05" fill="#000"/>
<circle cx="575.28" cy="350.63" r="1.05" fill="#000"/>
<circle cx="585.06" cy="350.60" r="1.05" fill="#000"/>
<circle cx="595.41" cy="350.60" r="1.05" fill="#000"/>
<circle cx="606.37" cy="350.60" r="1.05" fill="#000"/>
<circle cx="617.96" cy="350.60" r="1.05" fill="#000"/>
<circle cx="630.23" cy="350.60" r="1.05" fill="#000"/>
<circle cx="643.21" cy="350.60" r="1.05" fill="#000"/>
<circle cx="656.96" cy="350.60" r="1.05" fill="#000"/>
<circle cx="671.50" cy="350.60" r="1.05" fill="#000"/>
<path d="M408.20,348.20L415.40,348.20M408.83,345.23L414.77,351.17M411.80,344.60L411.80,351.80M414.77,345.23L408.83,351.17M434.60,357.60L441.80,357.60M435.23,354.63L441.17,360.57M438.20,354.00L438.20,361.20M441.17,354.63L435.23,360.57M461.90,381.50L469.10,381.50M462.53,378.53L468.47,384.47M465.50,377.90L465.50,385.10M468.47,378.53L462.53,384.47M489.60,408.90L496.80,408.90M490.23,405.93L496.17,411.87M493.20,405.30L493.20,412.50M496.17,405.93L490.23,411.87M517.30,433.40L524.50,433.40M517.93,430.43L523.87,436.37M520.90,429.80L520.90,437.00M523.87,430.43L517.93,436.37M545.70,453.30L552.90,453.30M546.33,450.33L552.27,456.27M549.30,449.70L549.30,456.90M552.27,450.33L546.33,456.27M571.70,466.80L578.90,466.80M572.33,463.83L578.27,469.77M575.30,463.20L575.30,470.40M578.27,463.83L572.33,469.77M602.80,478.40L610.00,478.40M603.43,475.43L609.37,481.37M606.40,474.80L606.40,482.00M609.37,475.43L603.43,481.37M626.80,485.70L634.00,485.70M627.43,482.73L633.37,488.67M630.40,482.10L630.40,489.30M633.37,482.73L627.43,488.67M668.10,493.70L675.30,493.70M668.73,490.73L674.67,496.67M671.70,490.10L671.70,497.30M674.67,490.73L668.73,496.67" stroke="#ff0000" stroke-width="1.05" fill="none"/>
<circle cx="412.00" cy="527.80" r="3.0" fill="none" stroke="#0000ff" stroke-width="1.05"/>
<circle cx="438.10" cy="517.60" r="3.0" fill="none" stroke="#0000ff" stroke-width="1.05"/>
<circle cx="465.50" cy="493.20" r="3.0" fill="none" stroke="#0000ff" stroke-width="1.05"/>
<circle cx="493.30" cy="465.60" r="3.0" fill="none" stroke="#0000ff" stroke-width="1.05"/>
<circle cx="520.80" cy="440.80" r="3.0" fill="none" stroke="#0000ff" stroke-width="1.05"/>
<circle cx="549.30" cy="421.30" r="3.0" fill="none" stroke="#0000ff" stroke-width="1.05"/>
<circle cx="575.30" cy="407.60" r="3.0" fill="none" stroke="#0000ff" stroke-width="1.05"/>
<circle cx="606.50" cy="396.00" r="3.0" fill="none" stroke="#0000ff" stroke-width="1.05"/>
<circle cx="630.40" cy="389.50" r="3.0" fill="none" stroke="#0000ff" stroke-width="1.05"/>
<circle cx="671.70" cy="380.90" r="3.0" fill="none" stroke="#0000ff" stroke-width="1.05"/>
<text x="411.00" y="545.80" transform="rotate(0.05 411.00 545.80)" text-anchor="middle">0</text>
<text x="478.43" y="545.80" transform="rotate(0.05 478.43 545.80)" text-anchor="middle">1</text>
<text x="545.85" y="545.80" transform="rotate(0.05 545.85 545.80)" text-anchor="middle">2</text>
<text x="613.28" y="545.80" transform="rotate(0.05 613.28 545.80)" text-anchor="middle">3</text>
<text x="680.70" y="545.80" transform="rotate(0.05 680.70 545.80)" text-anchor="middle">4</text>
<text x="406.30" y="533.50" transform="rotate(0.05 406.30 533.50)" text-anchor="end">0</text>
<text x="406.30" y="497.50" transform="rotate(0.05 406.30 497.50)" text-anchor="end">0.2</text>
<text x="406.30" y="461.50" transform="rotate(0.05 406.30 461.50)" text-anchor="end">0.4</text>
<text x="406.30" y="425.50" transform="rotate(0.05 406.30 425.50)" text-anchor="end">0.6</text>
<text x="406.30" y="389.50" transform="rotate(0.05 406.30 389.50)" text-anchor="end">0.8</text>
<text x="406.30" y="353.50" transform="rotate(0.05 406.30 353.50)" text-anchor="end">1</text>
<text x="406.30" y="317.50" transform="rotate(0.05 406.30 317.50)" text-anchor="end">1.2</text>
<text x="545.70" y="563.00" transform="rotate(0.05 545.70 563.00)" text-anchor="middle" style="font-size:13.6px">Frequency [Hz]</text>
<text transform="translate(372.90,418.25) rotate(-89.95)" text-anchor="middle" style="font-size:14.00px">Scattering efficiency</text>
<path d="M650.50,558.85L656.50,564.85M650.50,564.85L656.50,558.85" stroke="#000" stroke-width="0.95" fill="none"/>
<text x="661.40" y="566.90" transform="rotate(0.05 661.40 566.90)" style="font-size:13.5px">10</text>
<text x="674.90" y="560.10" transform="rotate(0.05 674.90 560.10)" style="font-size:10.8px">4</text>
<text transform="translate(354.20,312.00) scale(0.960,1) rotate(0.05)" style="font-weight:bold;font-size:23px">(d)</text>
</svg>
</body></html>
